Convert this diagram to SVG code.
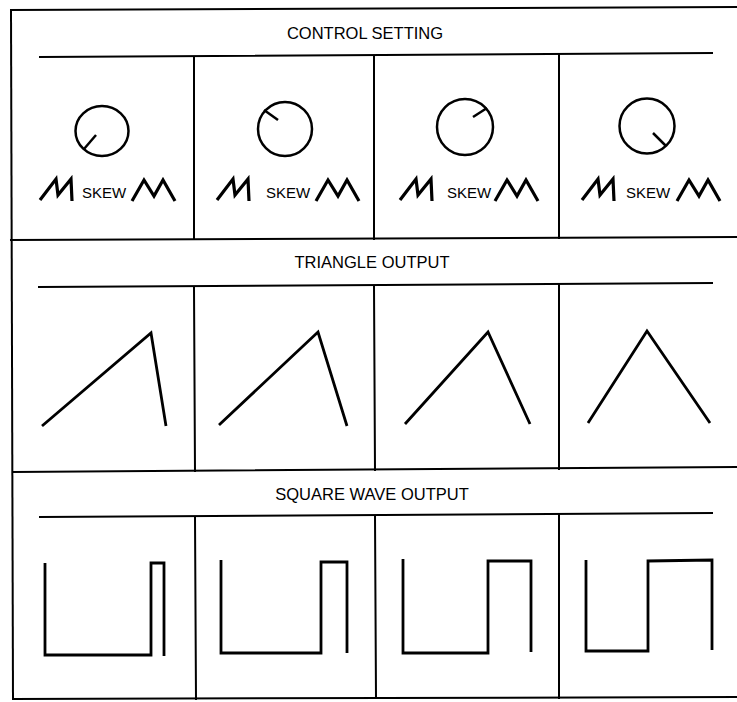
<svg xmlns="http://www.w3.org/2000/svg" width="737" height="702" viewBox="0 0 737 702">
<style>
.frame{stroke:#000;stroke-width:2;fill:none;stroke-linecap:square}
.wave{stroke:#000;stroke-width:2.8;fill:none;stroke-linejoin:miter;stroke-linecap:butt}
.knob{stroke:#000;stroke-width:2.5;fill:none}
.glyph{stroke:#000;stroke-width:3.2;fill:none;stroke-linejoin:miter}
.title{font-family:"Liberation Sans",Arial,sans-serif;font-size:16.5px;fill:#000;text-anchor:middle}
.skew{font-family:"Liberation Sans",Arial,sans-serif;font-size:15px;fill:#000}
</style>
<defs>
<path id="saw" class="glyph" d="M0,21 L16,0 L18,16 L31,0 L32,22"/>
<path id="tri" class="glyph" d="M0,21 L12,0 L22,16 L31,0 L43,21"/>
</defs>
<rect width="737" height="702" fill="#fff"/>
<g id="frame">
<line class="frame" x1="11" y1="10" x2="13" y2="699"/>
<line class="frame" x1="11" y1="10" x2="737" y2="7"/>
<line class="frame" x1="11" y1="240" x2="737" y2="237"/>
<line class="frame" x1="13" y1="472" x2="737" y2="467"/>
<line class="frame" x1="13" y1="699" x2="737" y2="697"/>
<line class="frame" x1="40" y1="57" x2="712" y2="53"/>
<line class="frame" x1="39" y1="287" x2="712" y2="283"/>
<line class="frame" x1="40" y1="517" x2="712" y2="513"/>
<line class="frame" x1="194" y1="57" x2="194" y2="239"/>
<line class="frame" x1="374" y1="56" x2="374" y2="239"/>
<line class="frame" x1="559" y1="55" x2="559" y2="238"/>
<line class="frame" x1="194" y1="287" x2="195" y2="471"/>
<line class="frame" x1="374" y1="286" x2="375" y2="470"/>
<line class="frame" x1="559" y1="285" x2="559" y2="469"/>
<line class="frame" x1="195" y1="517" x2="196" y2="699"/>
<line class="frame" x1="375" y1="516" x2="376" y2="698"/>
<line class="frame" x1="559" y1="515" x2="559" y2="698"/>
</g>
<g id="titles">
<text class="title" x="365" y="39">CONTROL SETTING</text>
<text class="title" x="372" y="268">TRIANGLE OUTPUT</text>
<text class="title" x="372" y="500">SQUARE WAVE OUTPUT</text>
</g>
<g id="control-1">
<ellipse class="knob" cx="102" cy="131" rx="26.5" ry="25"/>
<line class="knob" x1="84" y1="149" x2="96" y2="135"/>
<use href="#saw" x="40" y="179"/>
<text class="skew" x="82" y="198">SKEW</text>
<use href="#tri" x="132" y="180"/>
</g>
<g id="control-2">
<circle class="knob" cx="285" cy="129" r="27"/>
<line class="knob" x1="264" y1="110" x2="278" y2="120"/>
<use href="#saw" x="217" y="179"/>
<text class="skew" x="266" y="198">SKEW</text>
<use href="#tri" x="316" y="180"/>
</g>
<g id="control-3">
<circle class="knob" cx="465" cy="127" r="28"/>
<line class="knob" x1="487" y1="108" x2="473" y2="117"/>
<use href="#saw" x="400" y="179"/>
<text class="skew" x="447" y="198">SKEW</text>
<use href="#tri" x="495" y="180"/>
</g>
<g id="control-4">
<circle class="knob" cx="647" cy="126" r="27.5"/>
<line class="knob" x1="653" y1="133" x2="666" y2="146"/>
<use href="#saw" x="582" y="179"/>
<text class="skew" x="626" y="198">SKEW</text>
<use href="#tri" x="677" y="180"/>
</g>
<g id="triangle-1"><polyline class="wave" points="42,426 151,333 166,426"/></g>
<g id="triangle-2"><polyline class="wave" points="219,425 318,332 347,426"/></g>
<g id="triangle-3"><polyline class="wave" points="405,424 488,332 530,424"/></g>
<g id="triangle-4"><polyline class="wave" points="588,423 647,331 710,423"/></g>
<g id="square-1"><polyline class="wave" points="45,563 45,655 151,655 151,563 164,563 164,656"/></g>
<g id="square-2"><polyline class="wave" points="221,560 221,653 321,653 321,562 347,562 347,653"/></g>
<g id="square-3"><polyline class="wave" points="403,559 403,653 488,653 488,561 531,561 531,652"/></g>
<g id="square-4"><polyline class="wave" points="586,560 586,651 648,651 648,561 712,560 712,650"/></g>
</svg>
